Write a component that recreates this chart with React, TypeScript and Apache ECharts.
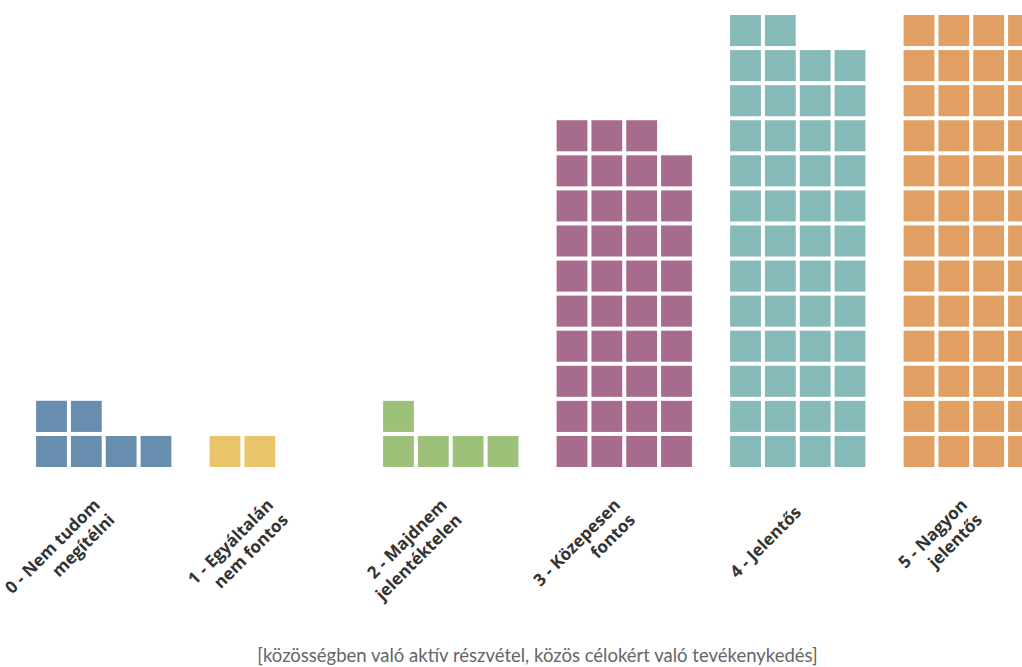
import React, { useEffect, useRef } from "react";
import * as echarts from "echarts";

const categories = [
  "0 - Nem tudom\nmegítélni",
  "1 - Egyáltalán\nnem fontos",
  "2 - Majdnem\njelentéktelen",
  "3 - Közepesen\nfontos",
  "4 - Jelentős",
  "5 - Nagyon\njelentős",
];
const counts = [6, 2, 5, 39, 50, 52];
const colors = ["#678eae", "#e9c46b", "#9dc178", "#a76b8d", "#85bab8", "#e0a063"];
const axisTitle = "[közösségben való aktív részvétel, közös célokért való tevékenykedés]";
const perRow = 4;
const rowsMax = 13;

export default function App() {
  const ref = useRef<HTMLDivElement>(null);
  useEffect(() => {
    if (!ref.current) return;
    const chart = echarts.init(ref.current, undefined, { renderer: "svg" });
    chart.setOption({
      animation: false,
      grid: { left: 17, top: 13, width: 1041, height: 456, outerBoundsMode: "none", containLabel: false },
      xAxis: {
        type: "category",
        data: categories,
        axisLine: { show: false },
        axisTick: { show: false },
        axisLabel: {
          rotate: 45,
          interval: 0,
          margin: 40,
          fontSize: 17,
          fontWeight: "bold",
          color: "#333333",
          fontFamily: "Open Sans",
          lineHeight: 21,
        },
        name: axisTitle,
        nameLocation: "middle",
        nameGap: 176,
        nameTextStyle: { fontSize: 18.5, color: "#666666", fontFamily: "Lato" },
      },
      yAxis: {
        type: "value",
        min: 0,
        max: rowsMax,
        show: false,
        splitLine: { show: false },
      },
      series: [
        {
          type: "custom",
          data: counts.map((c, i) => [i, c]),
          renderItem: (params: any, api: any) => {
            const idx = api.value(0);
            const count = api.value(1);
            const base = api.coord([idx, 0]);
            const pitchY = api.size([0, 1])[1];
            const pitchX = pitchY * 0.993;
            const gap = 4;
            const children: any[] = [];
            for (let k = 0; k < count; k++) {
              const row = Math.floor(k / perRow);
              const col = k % perRow;
              children.push({
                type: "rect",
                shape: {
                  x: base[0] - 2 * pitchX + col * pitchX + gap / 2,
                  y: base[1] - (row + 1) * pitchY + gap / 2,
                  width: pitchX - gap,
                  height: pitchY - gap,
                },
                style: { fill: colors[idx] },
              });
            }
            return { type: "group", children };
          },
        },
      ],
    });
    return () => chart.dispose();
  }, []);
  return (
    <div
      ref={ref}
      style={{ position: "fixed", left: 0, top: 0, width: 1022, height: 667, background: "#fff" }}
    />
  );
}
